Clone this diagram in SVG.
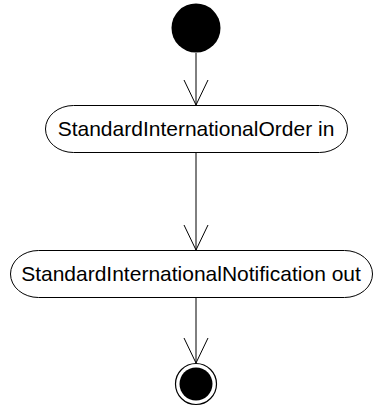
<svg xmlns="http://www.w3.org/2000/svg" width="382" height="414" viewBox="0 0 382 414">
<style>
.node{fill:#fff;stroke:#000;stroke-width:1}
.lbl{font-family:"Liberation Sans",Arial,sans-serif;font-size:21px;fill:#000;text-anchor:middle}
.edge{stroke:#000;stroke-width:1;fill:none}
</style>
<rect width="382" height="414" fill="#fff"/>
<g id="edges">
<line class="edge" x1="196" y1="53" x2="196" y2="105"/>
<path class="edge" d="M184,80 L196,105 L208,80"/>
<line class="edge" x1="196" y1="153" x2="196" y2="250"/>
<path class="edge" d="M184,225 L196,250 L208,225"/>
<line class="edge" x1="196" y1="298" x2="196" y2="363"/>
<path class="edge" d="M184,338 L196,363 L208,338"/>
</g>
<g id="start">
<circle cx="196" cy="28" r="24.5" fill="#000"/>
</g>
<g id="n1">
<rect class="node" x="45.5" y="105.5" width="302" height="47" rx="28" ry="23.5"/>
<text class="lbl" x="196" y="136">StandardInternationalOrder in</text>
</g>
<g id="n2">
<rect class="node" x="10.5" y="250.5" width="362" height="47" rx="28" ry="23.5"/>
<text class="lbl" x="191" y="281">StandardInternationalNotification out</text>
</g>
<g id="end">
<circle cx="196" cy="384" r="20.5" fill="#fff" stroke="#000" stroke-width="1.2"/>
<circle cx="196" cy="384" r="16.5" fill="#000"/>
</g>
</svg>
